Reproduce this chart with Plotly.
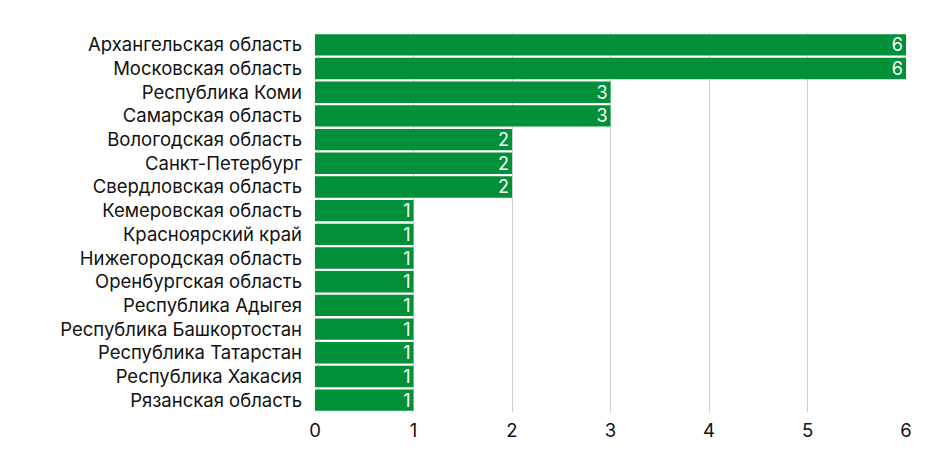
import plotly.graph_objects as go

regions = [
    "Архангельская область",
    "Московская область",
    "Республика Коми",
    "Самарская область",
    "Вологодская область",
    "Санкт-Петербург",
    "Свердловская область",
    "Кемеровская область",
    "Красноярский край",
    "Нижегородская область",
    "Оренбургская область",
    "Республика Адыгея",
    "Республика Башкортостан",
    "Республика Татарстан",
    "Республика Хакасия",
    "Рязанская область",
]
counts = [6, 6, 3, 3, 2, 2, 2, 1, 1, 1, 1, 1, 1, 1, 1, 1]

fig = go.Figure(go.Bar(
    x=counts, y=regions, orientation="h",
    marker=dict(color="#009138", line=dict(width=0)),
    text=counts, textposition="inside", insidetextanchor="end", textangle=0,
    textfont=dict(color="white", size=18),
))

# page body has an 8px margin, so the figure is a bit smaller than the window
fig.update_layout(
    width=924, height=451,
    margin=dict(l=307, r=26, t=25, b=47),
    plot_bgcolor="white", paper_bgcolor="white",
    font=dict(family="Inter", size=18.5, color="#111"),
    bargap=0.1, showlegend=False,
    uniformtext=dict(minsize=18, mode="show"),
)
fig.update_xaxes(range=[0, 6], dtick=1, showgrid=True, gridcolor="#d0d0d0", gridwidth=1,
                 zeroline=False, showline=False, ticks="", ticklabelstandoff=5,
                 automargin=False)
fig.update_yaxes(autorange="reversed", showgrid=False, ticks="", ticklabelstandoff=12,
                 automargin=False)

fig.write_html("out.html")
